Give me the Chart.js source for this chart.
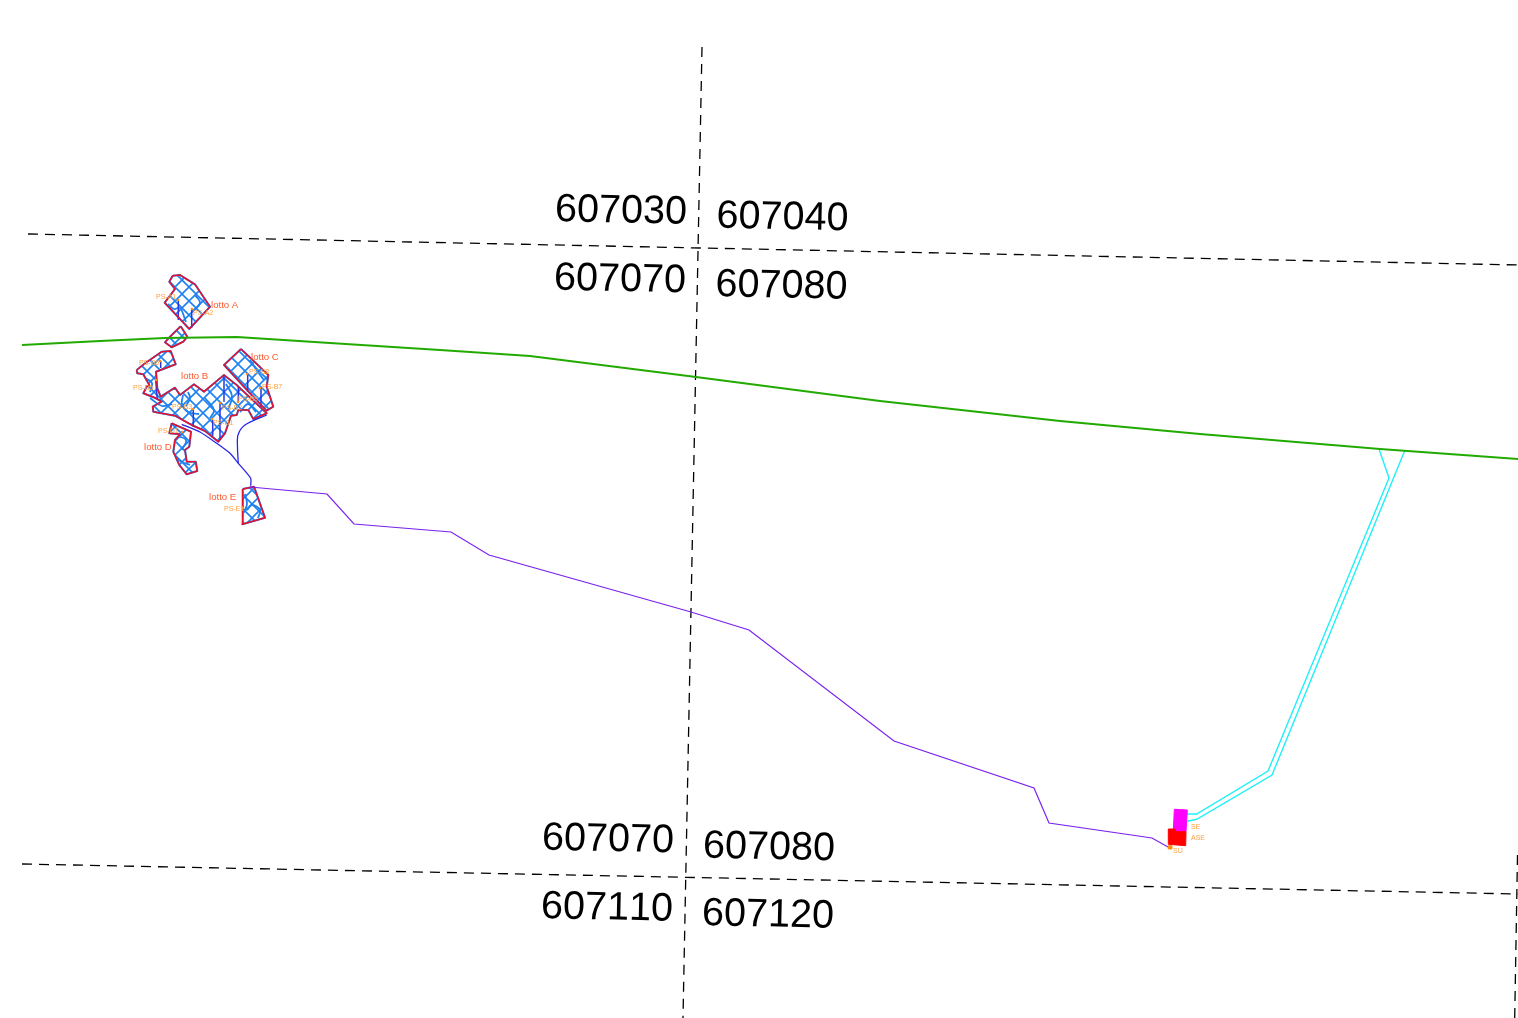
<!DOCTYPE html>
<html>
<head>
<meta charset="utf-8">
<title>Planimetria</title>
<script src="https://cdn.jsdelivr.net/npm/chart.js@4/dist/chart.umd.js"></script>
<style>
html, body { margin: 0; padding: 0; background: #fff; }
#plan-wrap { width: 1518px; height: 1018px; }
canvas { display: block; }
</style>
</head>
<body>
<div id="plan-wrap"><canvas id="plan" width="1518" height="1018"></canvas></div>
<script>
// map values, [east, south]
const gridH1 = [[28, 234], [1518, 265]];
const gridH2 = [[22, 864], [1518, 894]];
const gridV1 = [[702, 47], [683, 1018]];
const gridV2 = [[1517.5, 855], [1514.7, 1018]];

const road = [[22, 345], [100, 341], [165, 338], [237, 337], [330, 343], [440, 350], [530, 356], [696, 377], [880, 401], [1060, 421], [1200, 434], [1380, 449], [1518, 459]];
const purpleCable = [[250, 487], [327, 494], [354, 524], [451, 532], [489, 555], [691, 612], [749, 630], [894, 741], [1034, 788], [1049, 823], [1152, 838], [1168, 847]];
const cyanA = [[1379, 449], [1389, 478], [1268, 771], [1196.7, 814], [1185, 814]];
const cyanB = [[1405, 450], [1272, 775], [1196.7, 819.3], [1185, 821.7]];
const blueCableMain = [[181.7, 424.3], [200, 432], [216.7, 443.3], [230, 453.3], [238.3, 463.3], [250.7, 478.3], [250.7, 485.7]];
const blueCableBranch = [[238.3, 463.3], [237.5, 448], [238, 435], [245, 425], [266.7, 415]];

const lotA = [[172.7, 275.7], [180, 275], [195, 284.3], [210, 306.7], [189.3, 329], [180, 319], [164.7, 302.7], [175, 289], [169.3, 281.7]];
const lotA2 = [[180.7, 326.3], [187.3, 336.7], [183.3, 341.7], [171.7, 347.3], [165, 342.3], [170, 336.7]];
const lotB = [[136.7, 370], [145, 363.3], [161.7, 351.7], [170.7, 351], [175.7, 364.3], [156, 371.7], [157.3, 388.3], [160.7, 396.7], [175, 387.7], [180, 395], [194, 384.3], [204, 391.7], [224, 375], [236.7, 385], [266.7, 413.3], [253.3, 419], [248.3, 410], [238.3, 410], [236.7, 415], [231, 415.7], [225, 433.3], [218.3, 441.7], [205, 431], [191.7, 425], [175, 415.7], [153.3, 411.7], [152.7, 406.7], [161.7, 401.7], [156, 398.3], [143.3, 393.3], [146.7, 386.7], [149.3, 385], [143.3, 374.3], [137.3, 373.3]];
const lotC = [[241, 349], [268.3, 375], [266.7, 386.7], [273.3, 406.7], [266.7, 410.7], [250, 393.3], [224, 365]];
const lotD = [[171.7, 423.3], [181.7, 427.7], [191, 431.7], [189.3, 446.7], [185, 450], [186.7, 461.7], [195.7, 461.7], [197.3, 471], [186.7, 474.3], [179.3, 465], [173.3, 451.7], [175, 440], [180, 434.3], [169.3, 433.3]];
const lotE = [[242.7, 489], [254, 486.7], [265, 517.7], [242.3, 524.3]];
const lots = [lotA, lotA2, lotB, lotC, lotD, lotE];

const substationSE = [[1174.3, 809.3], [1187.3, 810], [1186, 831.7], [1173.3, 831.7]];
const substationASE = [[1168.3, 829], [1175, 829], [1175, 831.7], [1186, 831.7], [1185.7, 845.7], [1168.3, 844.3]];
const substationSU = [[1168.3, 845.7], [1171.7, 845.7], [1171.7, 849], [1168.3, 849]];

const stringLines = [
  [[178.3, 300.7], [178.3, 320]], [[191.7, 309.3], [191.7, 327.7]], [[160.7, 361], [160.7, 368]],
  [[155.7, 380], [157.3, 400]], [[193.3, 410], [193.3, 426.7]], [[212.7, 420], [212.7, 435.7]],
  [[220, 403.3], [220, 440]], [[224, 376.7], [224, 401.7]], [[238.3, 386.7], [238.3, 402.3]],
  [[247.7, 374.3], [247.7, 391.7]], [[261, 388.3], [261, 406.7]]
];

const contours = [
  [[168, 304], [174, 309], [180, 308], [186, 322]],
  [[195, 295], [200, 303], [192, 312]],
  [[183, 395], [182, 404], [188, 412], [199, 414]],
  [[188, 392], [190, 398], [186, 406]],
  [[205, 398], [214, 410], [210, 418]],
  [[226, 384], [232, 396], [228, 410]],
  [[240, 412], [248, 404], [256, 412]],
  [[150, 398], [162, 406], [172, 404]],
  [[176, 458], [182, 462], [190, 465]],
  [[178, 436], [186, 440], [182, 450]],
  [[247, 510], [252, 505], [260, 510], [258, 518]],
  [[145, 378], [152, 383], [150, 392]],
  [[245, 494], [247, 504], [244, 512]],
  [[250, 360], [258, 372], [264, 380]]
];

const gridLabels = ['607030', '607040', '607070', '607080', '607070', '607080', '607110', '607120'];
const gridLabelX = [555, 716.5, 554, 715.5, 542, 703, 541, 702];
const gridLabelY = [210, 216.5, 278.5, 285, 838.5, 846.5, 907, 914];

const lotLabels = ['lotto A', 'lotto B', 'lotto C', 'lotto D', 'lotto E'];
const lotLabelX = [211, 181, 251, 144, 209];
const lotLabelY = [305, 376, 357, 447, 497];

const pointLabels = ['PS-A1', 'PS-A2', 'PS-B6', 'PS-B5', 'PS-B3', 'PS-B2', 'PS-B1', 'PS-B9', 'PS-B8', 'PS-B7', 'PS-D1', 'PS-E1', 'SE', 'ASE', 'SU'];
const pointLabelX = [156, 193, 139, 133, 172, 222, 213, 238, 249, 262, 158, 224, 1191, 1191, 1173];
const pointLabelY = [297, 313, 363, 388, 407, 408, 423, 399, 372, 387, 431, 509, 827, 838, 851];
const pointDotX = [178, 192, 160, 156, 193, 220, 212, 238, 247, 260, 182, 243];
const pointDotY = [300, 309, 361, 380, 409, 403, 419, 402, 374, 388, 432, 508];

function toPoints(list) {
  return list.map(p => ({ x: p[0], y: p[1] }));
}

function closed(list) {
  return toPoints(list.concat([list[0]]));
}

function makeHatch() {
  const size = 14;
  const tile = document.createElement('canvas');
  tile.width = size;
  tile.height = size;
  const c = tile.getContext('2d');
  c.strokeStyle = '#1e82f0';
  c.lineWidth = 1.6;
  c.beginPath();
  c.moveTo(-1, -1);
  c.lineTo(size + 1, size + 1);
  c.moveTo(size + 1, -1);
  c.lineTo(-1, size + 1);
  c.stroke();
  return c.createPattern(tile, 'repeat');
}

function line(data, color, width, extra) {
  return Object.assign({
    data: toPoints(data),
    showLine: true,
    borderColor: color,
    borderWidth: width,
    pointRadius: 0,
    fill: false,
    tension: 0
  }, extra || {});
}

const hatch = makeHatch();
const datasets = [];

[gridH1, gridH2, gridV1, gridV2].forEach(g => {
  datasets.push(line(g, '#000000', 1.3, { borderDash: [10, 7] }));
});

lots.forEach(lot => {
  datasets.push({
    data: closed(lot), showLine: true, pointRadius: 0, tension: 0,
    fill: 'shape', backgroundColor: hatch, borderColor: '#1e82f0', borderWidth: 2,
    borderJoinStyle: 'round'
  });
});

contours.forEach(c => datasets.push(line(c, '#1e82f0', 1.8, { tension: 0.4 })));
stringLines.forEach(s => datasets.push(line(s, '#2a35e8', 1.5)));

lots.forEach(lot => {
  datasets.push({
    data: closed(lot), showLine: true, pointRadius: 0, tension: 0,
    fill: false, borderColor: '#e8102c', borderWidth: 1.5, borderJoinStyle: 'round'
  });
});

datasets.push(line(blueCableMain, '#2a25e8', 1.3, { tension: 0.2 }));
datasets.push(line(blueCableBranch, '#2a25e8', 1.3, { tension: 0.3 }));
datasets.push(line(purpleCable, '#7a22ee', 1.2));
datasets.push(line(cyanA, '#1ff0f8', 1.4));
datasets.push(line(cyanB, '#1ff0f8', 1.4));
datasets.push(line(road, '#22aa00', 2));

datasets.push({
  data: closed(substationSE), showLine: true, pointRadius: 0,
  fill: 'shape', backgroundColor: '#ff00ff', borderColor: '#ff00ff', borderWidth: 1
});
datasets.push({
  data: closed(substationASE), showLine: true, pointRadius: 0,
  fill: 'shape', backgroundColor: '#ff0000', borderColor: '#ff0000', borderWidth: 1
});
datasets.push({
  data: closed(substationSU), showLine: true, pointRadius: 0,
  fill: 'shape', backgroundColor: '#ff8c00', borderColor: '#ff8c00', borderWidth: 1
});
datasets.push({
  data: pointDotX.map((x, i) => ({ x: x, y: pointDotY[i] })),
  showLine: false, pointRadius: 1.3, pointBackgroundColor: '#ff8c1a', pointBorderWidth: 0
});

// chart.js paints the first dataset last, later ones have to sit on top here
datasets.reverse();

const mapText = {
  id: 'mapText',
  afterDatasetsDraw(chart) {
    const ctx = chart.ctx;
    const sx = chart.scales.x;
    const sy = chart.scales.y;

    function put(text, x, y, font, color, angle) {
      ctx.save();
      ctx.translate(sx.getPixelForValue(x), sy.getPixelForValue(y));
      ctx.rotate(angle);
      ctx.font = font;
      ctx.fontKerning = 'none';
      ctx.fillStyle = color;
      ctx.textAlign = 'left';
      ctx.textBaseline = 'middle';
      ctx.fillText(text, 0, 0);
      ctx.restore();
    }

    gridLabels.forEach((t, i) => put(t, gridLabelX[i], gridLabelY[i], '39.6px "Liberation Sans"', '#000000', 0.022));
    lotLabels.forEach((t, i) => put(t, lotLabelX[i], lotLabelY[i], '9.6px "Liberation Sans"', '#ff5a2e', 0));
    pointLabels.forEach((t, i) => put(t, pointLabelX[i], pointLabelY[i], '7px "Liberation Sans"', '#ffa040', 0));
  }
};

new Chart(document.getElementById('plan').getContext('2d'), {
  type: 'scatter',
  data: { datasets: datasets },
  options: {
    responsive: false,
    animation: false,
    devicePixelRatio: 1,
    layout: { padding: 0, autoPadding: false },
    plugins: { legend: { display: false }, tooltip: { enabled: false } },
    scales: {
      x: { type: 'linear', display: false, min: 0, max: 1518 },
      y: { type: 'linear', display: false, min: 0, max: 1018, reverse: true }
    }
  },
  plugins: [mapText]
});
</script>
</body>
</html>
